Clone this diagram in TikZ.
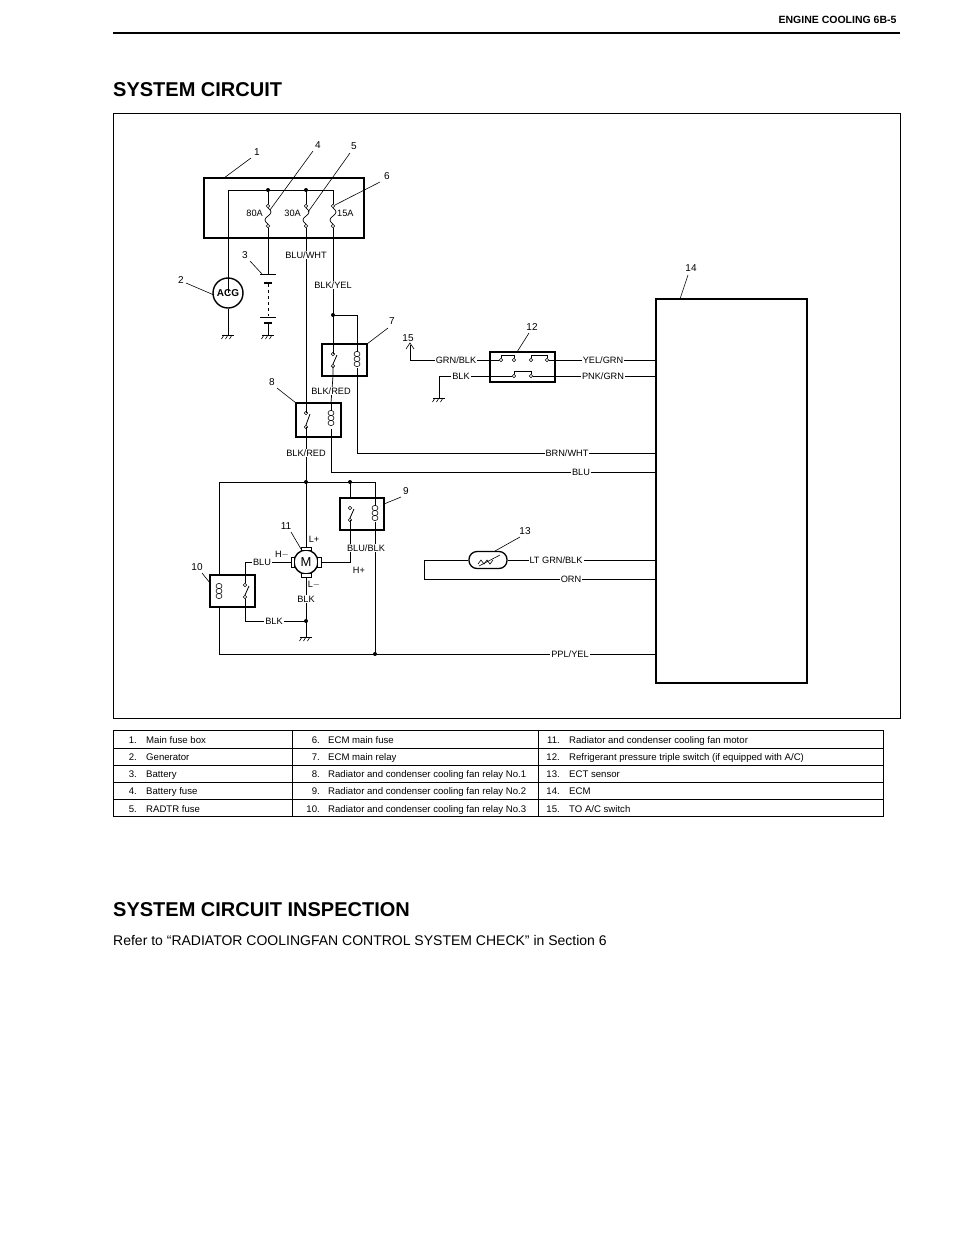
\documentclass[tikz,border=0pt]{standalone}
\usepackage{fontspec}
\setmainfont{Liberation Sans}
\begin{document}
\begin{tikzpicture}[x=1pt,y=-1pt,
  wire/.style={line width=0.7pt},
  thick box/.style={draw,line width=1.6pt},
  lbl/.style={font=\fontsize{9.2}{10}\selectfont,inner sep=1pt},
  num/.style={font=\fontsize{10}{11}\selectfont,inner sep=1pt},
  dot/.style={circle,fill,inner sep=0pt,minimum size=4pt},
  term/.style={circle,draw,fill=white,inner sep=0pt,minimum size=3.6pt,line width=0.6pt},
  tcell/.style={font=\fontsize{9.6}{11}\selectfont,anchor=base west,inner sep=0pt}]
\useasboundingbox (0,0) rectangle (960,1235);
% header
\node[anchor=east,font=\bfseries\fontsize{10.5}{12}\selectfont] (hdr) at (900,20) {ENGINE COOLING 6B-5};
\draw[line width=2.2pt] (113,33) -- (900,33);
\node[anchor=west,font=\bfseries\fontsize{20}{22}\selectfont,inner sep=0pt] (t1) at (113,90) {SYSTEM CIRCUIT};
\draw[line width=0.6pt] (113,113) rectangle (900,718);

% ---------- fuse box
\draw[thick box] (204,178) rectangle (364,238);
\node[dot] (d1) at (268,190) {};
\node[dot] (d2) at (306,190) {};
\draw[wire] (228,293) -- (228,190) -- (333,190) -- (333,204);
\draw[wire] (268,190)--(268,204) (306,190)--(306,204);
\foreach \x in {268,306,333}{
  \node[term] at (\x,206) {};
  \node[term] at (\x,226) {};
  \draw[wire] (\x,208) .. controls (\x+4,211) and (\x+4,213) .. (\x,216) .. controls (\x-4,219) and (\x-4,221) .. (\x,224);
}
\node[lbl,anchor=east] at (264,213) {80A};
\node[lbl,anchor=east] at (302,213) {30A};
\node[lbl,anchor=west] at (336,213) {15A};
% ACG
\node[draw,circle,minimum size=30pt,inner sep=0pt,line width=1.4pt,font=\bfseries\fontsize{10}{11}\selectfont] (acg) at (228,293) {ACG};
\draw[wire] (acg.south) -- (228,335);
% battery
\draw[wire] (268,228) -- (268,274);
\draw[line width=0.8pt] (260,274)--(276,274) (260,317)--(276,317);
\draw[line width=2.2pt] (264,283)--(272,283) (264,323)--(272,323);
\draw[wire,dashed] (268,284) -- (268,316);
\draw[wire] (268,323) -- (268,335);
% grounds
\foreach \x/\y in {228/335,268/335,439/398,306/637}{
  \draw[line width=0.8pt] (\x-6,\y)--(\x+6,\y);
  \foreach \k in {-4,0,4}{\draw[line width=0.6pt] (\x+\k,\y)--(\x+\k-2.5,\y+4);}
}

% ---------- relay macro
\newcommand\myrelay[6]{% x1,y1,x2,y2,switchx,coilx
  \draw[thick box,line width=1.4pt] (#1,#2) rectangle (#3,#4);
  \node[term] at (#5,#2+10) {};
  \node[term] at (#5,#4-10) {};
  \draw[line width=0.8pt] (#5,#4-12) -- (#5+4,#2+11);
  \draw[line width=0.6pt] (#6,#2) -- (#6,#2+8) (#6,#4) -- (#6,#4-8);
  \foreach \k in {0,1,2}{\draw[line width=0.6pt] (#6,#2+10+\k*5) ellipse (3 and 2.6);}
}
\myrelay{322}{344}{367}{376}{333}{357}
\myrelay{296}{403}{341}{437}{306}{331}
\myrelay{340}{498}{384}{530}{350}{375}
% relay 10 (coil left, switch right)
\draw[thick box,line width=1.4pt] (210,575) rectangle (255,607);
\node[term] at (245,585) {};
\node[term] at (245,597) {};
\draw[line width=0.8pt] (245,595) -- (249,586);
\foreach \k in {0,1,2}{\draw[line width=0.6pt] (219,586+\k*5) ellipse (3 and 2.6);}

% wires upper
\node[dot] (d3) at (333,315) {};
\draw[wire] (306,228) -- (306,413);
\draw[wire] (333,228) -- (333,354);
\draw[wire] (333,315) -- (357,315) -- (357,344);
\draw[wire] (357,376) -- (357,453) -- (656,453);
\draw[wire] (333,366) -- (333,376) -- (331,403);
\draw[wire] (331,437) -- (331,472) -- (656,472);
\node[dot] (d4) at (306,482) {};
\draw[wire] (306,427) -- (306,482);
\node[lbl,fill=white] at (306,255) {BLU/WHT};
\node[lbl,fill=white] at (333,285) {BLK/YEL};
\node[lbl,fill=white] at (331,391) {BLK/RED};
\node[lbl,fill=white] at (306,453) {BLK/RED};
\node[lbl,fill=white] at (567,453) {BRN/WHT};
\node[lbl,fill=white] at (581,472) {BLU};

% lower loop
\node[dot] (d5) at (350,482) {};
\node[dot] (d6) at (375,654) {};
\draw[wire] (219,575) -- (219,482) -- (375,482) -- (375,498);
\draw[wire] (350,482) -- (350,498);
\draw[wire] (375,530) -- (375,654);
\draw[wire] (219,607) -- (219,654) -- (656,654);
\node[lbl,fill=white] at (570,654) {PPL/YEL};

% motor
\node[draw,circle,minimum size=24pt,inner sep=0pt,line width=1.4pt,font=\fontsize{13}{14}\selectfont] (mot) at (306,562) {M};
\foreach \a in {0,90,180,270}{\draw[line width=0.8pt,fill=white,rotate around={\a:(306,562)}] (301,547) rectangle (311,550.5);}
\draw[wire] (306,482) -- (306,547);
\draw[wire] (306,577) -- (306,637);
\node[dot] (d7) at (306,621) {};
\draw[wire] (321,562) -- (350,562) -- (350,520);
\draw[wire] (291,562) -- (245,562) -- (245,583);
\draw[wire] (245,599) -- (245,621) -- (306,621);
\node[lbl] at (314,539) {L+};
\node[lbl] at (282,555) {H$-$};
\node[lbl,fill=white] at (262,562) {BLU};
\node[lbl] at (359,570) {H+};
\node[lbl] at (314,585) {L$-$};
\node[lbl,fill=white] at (306,599) {BLK};
\node[lbl,fill=white] at (274,621) {BLK};
\node[lbl,fill=white] at (366,548) {BLU/BLK};

% switch 12
\draw[thick box,line width=1.4pt] (490,352) rectangle (555,382);
\draw[wire] (410,345) -- (410,360) -- (499,360);
\draw[line width=0.6pt] (406,349) -- (410,343) -- (414,349);
\draw[wire] (549,360)--(656,360);
\draw[wire] (439,398) -- (439,376) -- (512,376) (533,376)--(656,376);
\foreach \x in {501,514,531,547}{\node[term] at (\x,360) {};}
\foreach \x in {514,531}{\node[term] at (\x,376) {};}
\draw[line width=0.9pt] (501,358)--(501,355)--(514,355)--(514,358) (531,358)--(531,355)--(547,355)--(547,358);
\draw[line width=0.9pt] (514,374)--(514,371)--(531,371)--(531,374);
\node[lbl,fill=white] at (456,360) {GRN/BLK};
\node[lbl,fill=white] at (461,376) {BLK};
\node[lbl,fill=white] at (603,360) {YEL/GRN};
\node[lbl,fill=white] at (603,376) {PNK/GRN};

% ECT sensor
\node[draw,rounded corners=8pt,minimum width=38pt,minimum height=17pt,line width=1.3pt] (ect) at (488,560) {};
\draw[line width=0.6pt] (478,564) -- (481,560) -- (484,564) -- (487,560) -- (490,564) -- (493,560);
\draw[line width=0.6pt] (479,566) -- (500,555);
\draw[wire] (ect.east) -- (656,560);
\draw[wire] (ect.west) -- (424,560) -- (424,579) -- (656,579);
\node[lbl,fill=white] at (556,560) {LT GRN/BLK};
\node[lbl,fill=white] at (571,579) {ORN};

% ECM
\draw[thick box] (656,299) rectangle (807,683);

% leaders and numbers
\draw[line width=0.6pt] (251,158) -- (224,178);
\node[num] at (257,152) {1};
\draw[line width=0.6pt] (186,283) -- (214,295);
\node[num] at (181,280) {2};
\draw[line width=0.6pt] (250,261) -- (262,274);
\node[num] at (245,255) {3};
\draw[line width=0.6pt] (313,151) -- (270,210);
\node[num] at (318,145) {4};
\draw[line width=0.6pt] (350,153) -- (308,212);
\node[num] at (354,146) {5};
\draw[line width=0.6pt] (380,182) -- (335,205);
\node[num] at (387,176) {6};
\draw[line width=0.6pt] (388,328) -- (367,344);
\node[num] at (392,321) {7};
\draw[line width=0.6pt] (277,388) -- (296,403);
\node[num] at (272,382) {8};
\draw[line width=0.6pt] (401,497) -- (384,504);
\node[num] at (406,491) {9};
\draw[line width=0.6pt] (202,573) -- (210,583);
\node[num] at (197,567) {10};
\draw[line width=0.6pt] (291,532) -- (301,549);
\node[num] at (286,526) {11};
\draw[line width=0.6pt] (529,333) -- (517,352);
\node[num] at (532,327) {12};
\draw[line width=0.6pt] (520,537) -- (495,551);
\node[num] at (525,531) {13};
\draw[line width=0.6pt] (688,275) -- (680,299);
\node[num] at (691,268) {14};
\node[num] at (408,338) {15};

% table
\draw[line width=0.6pt] (113,730) rectangle (883,816);
\foreach \y in {748,765,782,799}{\draw[line width=0.5pt] (113,\y)--(883,\y);}
\draw[line width=0.5pt] (292,730)--(292,816) (538,730)--(538,816);
\foreach \r/\a/\b/\c [count=\i] in {
 {1.}/{Main fuse box}/{6.}/{ECM main fuse},
 {2.}/{Generator}/{7.}/{ECM main relay},
 {3.}/{Battery}/{8.}/{Radiator and condenser cooling fan relay No.1},
 {4.}/{Battery fuse}/{9.}/{Radiator and condenser cooling fan relay No.2},
 {5.}/{RADTR fuse}/{10.}/{Radiator and condenser cooling fan relay No.3}}{
  \node[tcell,anchor=base east] at (137,726+\i*17.2) {\r};
  \node[tcell] at (146,726+\i*17.2) {\a};
  \node[tcell,anchor=base east] at (320,726+\i*17.2) {\b};
  \node[tcell] at (328,726+\i*17.2) {\c};
}
\foreach \r/\a [count=\i] in {
 {11.}/{Radiator and condenser cooling fan motor},
 {12.}/{Refrigerant pressure triple switch (if equipped with A/C)},
 {13.}/{ECT sensor},{14.}/{ECM},{15.}/{TO A/C switch}}{
  \node[tcell,anchor=base east] at (560,726+\i*17.2) {\r};
  \node[tcell] at (569,726+\i*17.2) {\a};
}

\node[anchor=west,font=\bfseries\fontsize{20}{22}\selectfont,inner sep=0pt] (t2) at (113,910) {SYSTEM CIRCUIT INSPECTION};
\node[anchor=west,font=\fontsize{14}{16}\selectfont,inner sep=0pt] (t3) at (113,940) {Refer to “RADIATOR COOLINGFAN CONTROL SYSTEM CHECK” in Section 6};
\end{tikzpicture}
\end{document}
